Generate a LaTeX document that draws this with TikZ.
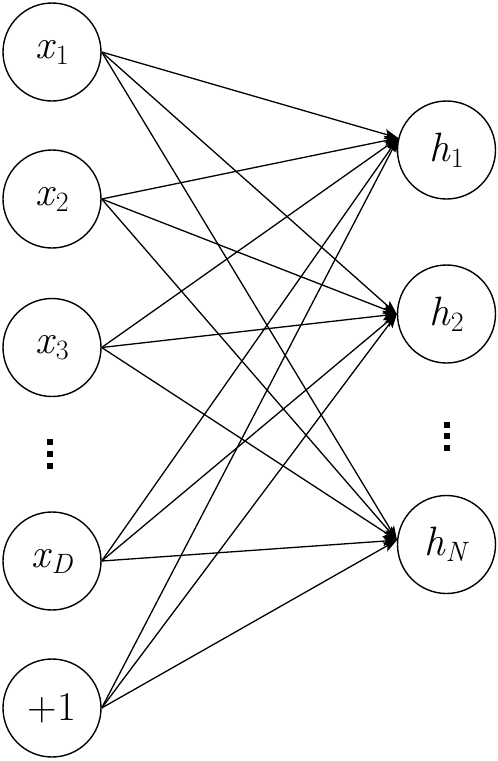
\documentclass[tikz,border=0pt]{standalone}
\usetikzlibrary{arrows.meta}
\newcommand{\mysub}[1]{\raisebox{-6pt}{\fontsize{28}{28}\selectfont #1}}
\begin{document}
\begin{tikzpicture}[x=1pt,y=-1pt,
  unit/.style={circle,draw,line width=1.4pt,minimum size=98pt,inner sep=0pt,font=\fontsize{41}{41}\selectfont},
  conn/.style={line width=1.3pt,-{Stealth[length=14pt,width=10pt,inset=3pt]}},
  dotsq/.style={fill=black}]
\useasboundingbox (0,0) rectangle (498,761);
\node[unit] (x1) at (52,52) {\textit{x}\mysub{1}};
\node[unit] (x2) at (52,199) {\textit{x}\mysub{2}};
\node[unit] (x3) at (52,347.5) {\textit{x}\mysub{3}};
\node[unit] (xD) at (52,561) {\textit{x}\mysub{\textit{D}}};
\node[unit] (b) at (52,708) {+1};
\node[unit] (h1) at (446.5,150) {\textit{h}\mysub{1}};
\node[unit] (h2) at (446.5,314) {\textit{h}\mysub{2}};
\node[unit] (hN) at (446.5,544.5) {\textit{h}\mysub{\textit{N}}};
\coordinate (t1) at (h1.166);
\coordinate (t2) at (h2.west);
\coordinate (tN) at (hN.175);
\foreach \s in {x1,x2,x3,xD,b}{
  \foreach \t in {t1,t2,tN}{
    \draw[conn] (\s.east) -- (\t);
  }
}
\foreach \yy in {442,454,466}{
  \fill[dotsq] (47,\yy-3) rectangle (53,\yy+3);
}
\foreach \yy in {424.5,436,447.5}{
  \fill[dotsq] (444,\yy-3) rectangle (450,\yy+3);
}
\end{tikzpicture}
\end{document}
